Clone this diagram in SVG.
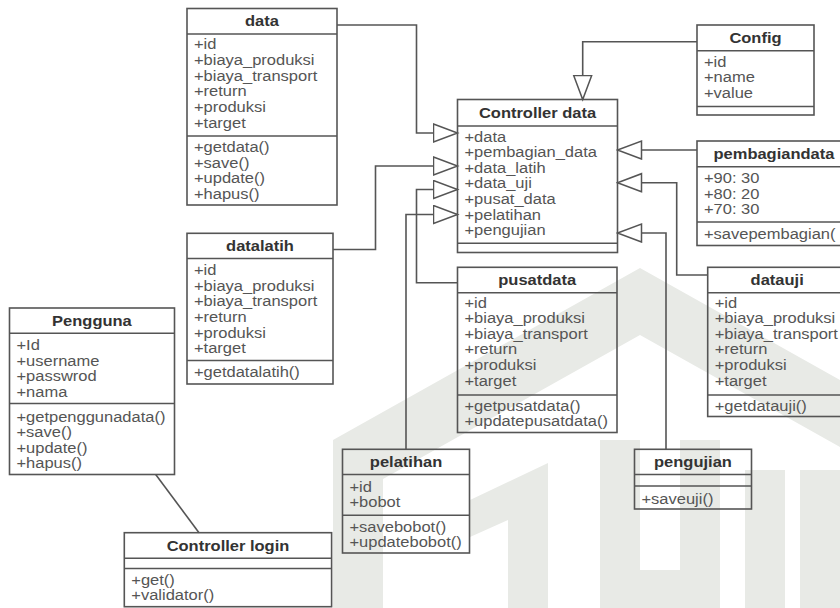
<svg xmlns="http://www.w3.org/2000/svg" width="840" height="608" viewBox="0 0 840 608">
  <style>
    .bg { fill: #ffffff; }
    .wm { fill: #e8eae6; }
    .box { fill: none; stroke: #555555; stroke-width: 1.6; }
    .rule { stroke: #555555; stroke-width: 1.6; }
    .conn { fill: none; stroke: #555555; stroke-width: 1.6; }
    .t { font-family: "Liberation Sans", Arial, sans-serif; font-size: 15px; fill: #555555; }
    .h { font-weight: bold; fill: #333333; text-anchor: middle; }
  </style>
  <defs>
    <marker id="gen" markerUnits="userSpaceOnUse" markerWidth="27" markerHeight="21" refX="25" refY="10" orient="auto">
      <path d="M1,1 L25,10 L1,19 Z" fill="#ffffff" stroke="#555555" stroke-width="1.5"/>
    </marker>
  </defs>

  <rect class="bg" x="0" y="0" width="840" height="608"/>

  <!-- faint background emblem -->
  <g id="emblem">
    <path class="wm" d="M333,440 L640,268 L840,380 L840,447 L640,335 L383,479 L383,608 L333,608 Z"/>
    <path class="wm" d="M470,500 L548,463 L548,608 L508,608 L508,520 L470,537 Z"/>
    <path class="wm" d="M600,440 H640 V570 H680 V440 H720 V608 H600 Z"/>
    <path class="wm" d="M745,470 H785 V608 H745 Z M800,470 H840 V608 H800 Z"/>
  </g>

  <!-- connectors -->
  <g id="connectors">
    <polyline class="conn" points="337,25 416.5,25 416.5,133 457.5,133" marker-end="url(#gen)"/>
    <polyline class="conn" points="333,249.5 375.5,249.5 375.5,166 457.5,166" marker-end="url(#gen)"/>
    <polyline class="conn" points="457.5,282.7 416.5,282.7 416.5,189.5 457.5,189.5" marker-end="url(#gen)"/>
    <polyline class="conn" points="406,449.3 406,214.5 457.5,214.5" marker-end="url(#gen)"/>
    <polyline class="conn" points="697,41.7 582.7,41.7 582.7,99.5" marker-end="url(#gen)"/>
    <polyline class="conn" points="697,150 617.5,150" marker-end="url(#gen)"/>
    <polyline class="conn" points="707.7,275 676.7,275 676.7,182.7 617.5,182.7" marker-end="url(#gen)"/>
    <polyline class="conn" points="666,449.3 666,233 617.5,233" marker-end="url(#gen)"/>
    <line class="conn" x1="155.7" y1="474.5" x2="199" y2="532.7"/>
  </g>

  <!-- data -->
  <g id="data">
    <rect class="box" x="187" y="8.5" width="150" height="196.5"/>
    <line class="rule" x1="187" y1="34" x2="337" y2="34"/>
    <line class="rule" x1="187" y1="136" x2="337" y2="136"/>
    <g transform="translate(194,0) scale(1.1,1)">
      <text class="t h" x="61.8" y="26.5">data</text>
      <text class="t" x="0" y="49.3">+id</text>
      <text class="t" x="0" y="65">+biaya_produksi</text>
      <text class="t" x="0" y="80.7">+biaya_transport</text>
      <text class="t" x="0" y="96.4">+return</text>
      <text class="t" x="0" y="112.1">+produksi</text>
      <text class="t" x="0" y="127.8">+target</text>
      <text class="t" x="0" y="152">+getdata()</text>
      <text class="t" x="0" y="167.6">+save()</text>
      <text class="t" x="0" y="183.2">+update()</text>
      <text class="t" x="0" y="198.8">+hapus()</text>
    </g>
  </g>

  <!-- Config -->
  <g id="config">
    <rect class="box" x="697" y="25" width="117" height="90"/>
    <line class="rule" x1="697" y1="50.7" x2="814" y2="50.7"/>
    <line class="rule" x1="697" y1="106.5" x2="814" y2="106.5"/>
    <g transform="translate(704,0) scale(1.1,1)">
      <text class="t h" x="46.8" y="43">Config</text>
      <text class="t" x="0" y="66.7">+id</text>
      <text class="t" x="0" y="82.3">+name</text>
      <text class="t" x="0" y="98">+value</text>
    </g>
  </g>

  <!-- Controller data -->
  <g id="controller-data">
    <rect class="box" x="457.5" y="99.5" width="160" height="153"/>
    <line class="rule" x1="457.5" y1="126" x2="617.5" y2="126"/>
    <line class="rule" x1="457.5" y1="243.3" x2="617.5" y2="243.3"/>
    <g transform="translate(464.5,0) scale(1.1,1)">
      <text class="t h" x="66.4" y="118.3">Controller data</text>
      <text class="t" x="0" y="141.7">+data</text>
      <text class="t" x="0" y="157.3">+pembagian_data</text>
      <text class="t" x="0" y="172.9">+data_latih</text>
      <text class="t" x="0" y="188.5">+data_uji</text>
      <text class="t" x="0" y="204.1">+pusat_data</text>
      <text class="t" x="0" y="219.7">+pelatihan</text>
      <text class="t" x="0" y="235.3">+pengujian</text>
    </g>
  </g>

  <!-- pembagiandata -->
  <g id="pembagiandata">
    <rect class="box" x="697" y="141" width="154" height="104.5"/>
    <line class="rule" x1="697" y1="166.7" x2="851" y2="166.7"/>
    <line class="rule" x1="697" y1="222" x2="851" y2="222"/>
    <g transform="translate(704,0) scale(1.1,1)">
      <text class="t h" x="63.6" y="159.3">pembagiandata</text>
      <text class="t" x="0" y="183.3">+90: 30</text>
      <text class="t" x="0" y="198.9">+80: 20</text>
      <text class="t" x="0" y="214.5">+70: 30</text>
      <text class="t" x="0" y="239.3">+savepembagian(</text>
    </g>
  </g>

  <!-- datalatih -->
  <g id="datalatih">
    <rect class="box" x="187" y="233.3" width="146" height="150.7"/>
    <line class="rule" x1="187" y1="258.5" x2="333" y2="258.5"/>
    <line class="rule" x1="187" y1="360.5" x2="333" y2="360.5"/>
    <g transform="translate(194,0) scale(1.1,1)">
      <text class="t h" x="60" y="251.3">datalatih</text>
      <text class="t" x="0" y="275">+id</text>
      <text class="t" x="0" y="290.7">+biaya_produksi</text>
      <text class="t" x="0" y="306.3">+biaya_transport</text>
      <text class="t" x="0" y="322">+return</text>
      <text class="t" x="0" y="337.6">+produksi</text>
      <text class="t" x="0" y="353.3">+target</text>
      <text class="t" x="0" y="377">+getdatalatih()</text>
    </g>
  </g>

  <!-- pusatdata -->
  <g id="pusatdata">
    <rect class="box" x="457.5" y="267.3" width="159.5" height="165.2"/>
    <line class="rule" x1="457.5" y1="292.7" x2="617" y2="292.7"/>
    <line class="rule" x1="457.5" y1="395" x2="617" y2="395"/>
    <g transform="translate(464.5,0) scale(1.1,1)">
      <text class="t h" x="66.1" y="285.3">pusatdata</text>
      <text class="t" x="0" y="307.7">+id</text>
      <text class="t" x="0" y="323.3">+biaya_produksi</text>
      <text class="t" x="0" y="338.9">+biaya_transport</text>
      <text class="t" x="0" y="354.5">+return</text>
      <text class="t" x="0" y="370.1">+produksi</text>
      <text class="t" x="0" y="385.7">+target</text>
      <text class="t" x="0" y="410.7">+getpusatdata()</text>
      <text class="t" x="0" y="426.3">+updatepusatdata()</text>
    </g>
  </g>

  <!-- datauji -->
  <g id="datauji">
    <rect class="box" x="707.7" y="267.3" width="139" height="149.2"/>
    <line class="rule" x1="707.7" y1="292.7" x2="846.7" y2="292.7"/>
    <line class="rule" x1="707.7" y1="395" x2="846.7" y2="395"/>
    <g transform="translate(714.7,0) scale(1.1,1)">
      <text class="t h" x="56.8" y="285.3">datauji</text>
      <text class="t" x="0" y="307.7">+id</text>
      <text class="t" x="0" y="323.3">+biaya_produksi</text>
      <text class="t" x="0" y="338.9">+biaya_transport</text>
      <text class="t" x="0" y="354.5">+return</text>
      <text class="t" x="0" y="370.1">+produksi</text>
      <text class="t" x="0" y="385.7">+target</text>
      <text class="t" x="0" y="410.7">+getdatauji()</text>
    </g>
  </g>

  <!-- Pengguna -->
  <g id="pengguna">
    <rect class="box" x="9.5" y="308" width="165" height="166.5"/>
    <line class="rule" x1="9.5" y1="333.3" x2="174.5" y2="333.3"/>
    <line class="rule" x1="9.5" y1="403.5" x2="174.5" y2="403.5"/>
    <g transform="translate(16.5,0) scale(1.1,1)">
      <text class="t h" x="68.6" y="326.3">Pengguna</text>
      <text class="t" x="0" y="350">+Id</text>
      <text class="t" x="0" y="365.6">+username</text>
      <text class="t" x="0" y="381.2">+passwrod</text>
      <text class="t" x="0" y="396.8">+nama</text>
      <text class="t" x="0" y="422">+getpenggunadata()</text>
      <text class="t" x="0" y="437.5">+save()</text>
      <text class="t" x="0" y="453">+update()</text>
      <text class="t" x="0" y="468">+hapus()</text>
    </g>
  </g>

  <!-- Controller login -->
  <g id="controller-login">
    <rect class="box" x="124.3" y="532.7" width="207.3" height="74"/>
    <line class="rule" x1="124.3" y1="558.3" x2="331.6" y2="558.3"/>
    <line class="rule" x1="124.3" y1="568.5" x2="331.6" y2="568.5"/>
    <g transform="translate(131.3,0) scale(1.1,1)">
      <text class="t h" x="87.9" y="551.3">Controller login</text>
      <text class="t" x="0" y="585.5">+get()</text>
      <text class="t" x="0" y="600.5">+validator()</text>
    </g>
  </g>

  <!-- pelatihan -->
  <g id="pelatihan">
    <rect class="box" x="342.5" y="449.3" width="127" height="103.7"/>
    <line class="rule" x1="342.5" y1="474.5" x2="469.5" y2="474.5"/>
    <line class="rule" x1="342.5" y1="515.3" x2="469.5" y2="515.3"/>
    <g transform="translate(349.5,0) scale(1.1,1)">
      <text class="t h" x="51.4" y="467.3">pelatihan</text>
      <text class="t" x="0" y="491.7">+id</text>
      <text class="t" x="0" y="507">+bobot</text>
      <text class="t" x="0" y="532">+savebobot()</text>
      <text class="t" x="0" y="547.3">+updatebobot()</text>
    </g>
  </g>

  <!-- pengujian -->
  <g id="pengujian">
    <rect class="box" x="634.5" y="449.3" width="117" height="59.7"/>
    <line class="rule" x1="634.5" y1="474.5" x2="751.5" y2="474.5"/>
    <line class="rule" x1="634.5" y1="486" x2="751.5" y2="486"/>
    <g transform="translate(641.5,0) scale(1.1,1)">
      <text class="t h" x="46.8" y="467.3">pengujian</text>
      <text class="t" x="0" y="504">+saveuji()</text>
    </g>
  </g>
</svg>
